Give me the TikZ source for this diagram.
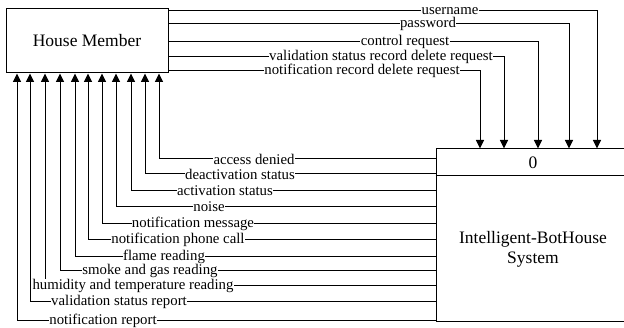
\documentclass[tikz,border=0pt]{standalone}
\usepackage{fontspec}
\setmainfont{Liberation Serif}
\usepackage{tikz}
\usetikzlibrary{arrows.meta}

\begin{document}
\begin{tikzpicture}[x=1pt, y=-1pt,
        box/.style={draw, line width=1pt, rectangle, inner sep=0pt},
        flow/.style={line width=1pt, -{Triangle[width=8pt,length=8.5pt]}},
        lbl/.style={fill=white, inner sep=0.4pt, font=\fontsize{14.8}{15}\selectfont}]
            \clip (0, 0) rectangle (624, 328);

            \node (hm) [box, minimum width=162pt, minimum height=64pt, font=\fontsize{17.5}{20}\selectfont] at (87, 41) {House Member};
            \node (sys) [box, minimum width=194pt, minimum height=173pt] at (533, 235.5) {};
            \draw[line width=1pt] (sys.west |- 0, 176) to (sys.east |- 0, 176);
            \node (num) at (533, 163) [font=\fontsize{17.5}{20}\selectfont] {0};
            \node (name) at (533, 249) [align=center, font=\fontsize{17.5}{20}\selectfont] {Intelligent-BotHouse\\System};

            % house member -> system
            \draw[flow] (hm.east |- 0, 11) -| (sys.north -| 597, 0);
            \draw[flow] (hm.east |- 0, 24) -| (sys.north -| 569, 0);
            \draw[flow] (hm.east |- 0, 42) -| (sys.north -| 538, 0);
            \draw[flow] (hm.east |- 0, 57) -| (sys.north -| 504, 0);
            \draw[flow] (hm.east |- 0, 71) -| (sys.north -| 480, 0);

            \node (l1) at (450, 11) [lbl] {username};
            \node (l2) at (428, 24) [lbl] {password};
            \node (l3) at (405, 42) [lbl] {control request};
            \node (l4) at (381, 57) [lbl] {validation status record delete request};
            \node (l5) at (362, 71) [lbl] {notification record delete request};

            % system -> house member
            \draw[flow] (sys.west |- 0, 159) -| (hm.south -| 159, 0);
            \draw[flow] (sys.west |- 0, 174) -| (hm.south -| 145, 0);
            \draw[flow] (sys.west |- 0, 191) -| (hm.south -| 131, 0);
            \draw[flow] (sys.west |- 0, 207) -| (hm.south -| 116, 0);
            \draw[flow] (sys.west |- 0, 224) -| (hm.south -| 102, 0);
            \draw[flow] (sys.west |- 0, 240) -| (hm.south -| 88, 0);
            \draw[flow] (sys.west |- 0, 257) -| (hm.south -| 75, 0);
            \draw[flow] (sys.west |- 0, 271) -| (hm.south -| 60, 0);
            \draw[flow] (sys.west |- 0, 286) -| (hm.south -| 45, 0);
            \draw[flow] (sys.west |- 0, 302) -| (hm.south -| 30, 0);
            \draw[flow] (sys.west |- 0, 321) -| (hm.south -| 17, 0);

            \node (r1) at (254, 159) [lbl] {access denied};
            \node (r2) at (240, 174) [lbl] {deactivation status};
            \node (r3) at (225, 191) [lbl] {activation status};
            \node (r4) at (209, 207) [lbl] {noise};
            \node (r5) at (193, 224) [lbl] {notification message};
            \node (r6) at (178, 240) [lbl] {notification phone call};
            \node (r7) at (164, 257) [lbl] {flame reading};
            \node (r8) at (150, 271) [lbl] {smoke and gas reading};
            \node (r9) at (133, 286) [lbl] {humidity and temperature reading};
            \node (r10) at (119, 302) [lbl] {validation status report};
            \node (r11) at (103, 321) [lbl] {notification report};
        \end{tikzpicture}
\end{document}
